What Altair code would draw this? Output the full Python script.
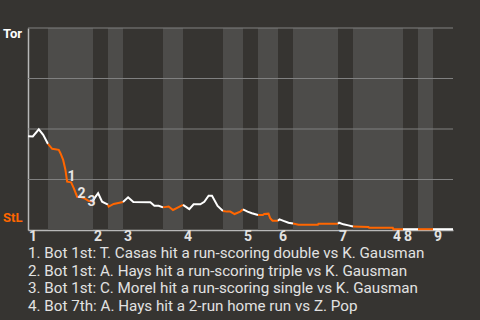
import altair as alt
import pandas as pd

# Win-probability trace (x in plays, v = Toronto win probability)
xs = [0.0, 0.96, 2.16, 3.04, 4.0, 4.83, 6.15, 6.49, 7.03, 7.49, 7.83, 8.63, 9.15, 9.83,
      10.49, 11.49, 12.09, 13.0, 13.28, 14.02, 14.82, 16.0, 16.14, 17.14, 19.0, 20.02,
      21.07, 24.47, 25.27, 26.13, 27.0, 28.13, 29.0, 30.12, 31.0, 32.26, 33.12, 34.46,
      35.26, 36.12, 36.80, 37.92, 39.0, 39.79, 40.45, 41.31, 42.45, 43.0, 43.91, 44.79,
      46.0, 46.98, 47.24, 48.10, 48.44, 48.90, 50.0, 50.30, 51.10, 52.10, 53.0, 54.10,
      57.97, 58.09, 62.0, 62.22, 63.08, 64.08, 65.0, 68.08, 68.22, 72.95, 73.07, 75.0,
      78.0, 81.0, 85.0]
vs = [0.464, 0.463, 0.498, 0.471, 0.426, 0.402, 0.397, 0.380, 0.347, 0.297, 0.239, 0.236,
      0.207, 0.165, 0.164, 0.154, 0.144, 0.141, 0.157, 0.182, 0.140, 0.126, 0.116, 0.129,
      0.139, 0.162, 0.139, 0.137, 0.120, 0.120, 0.112, 0.116, 0.099, 0.113, 0.124, 0.103,
      0.127, 0.127, 0.140, 0.170, 0.170, 0.119, 0.094, 0.091, 0.091, 0.079, 0.091, 0.102,
      0.091, 0.083, 0.074, 0.074, 0.079, 0.081, 0.058, 0.046, 0.046, 0.053, 0.045, 0.036,
      0.032, 0.026, 0.026, 0.031, 0.031, 0.036, 0.028, 0.023, 0.017, 0.015, 0.011, 0.011,
      0.004, 0.004, 0.004, 0.004, 0.004]

# Half-inning boundaries (in plays); even index = top (Tor bats), odd = bottom (StL bats)
half_bounds = [0, 4, 13, 16, 19, 27, 31, 39, 43, 46, 50, 53, 62, 65, 75, 78, 81, 85]

inning_numbers = ["1", "2", "3", "4", "5", "6", "7", "8", "9"]

ann_labels = ["1", "2", "3", "4"]
ann_x = [8.69, 10.69, 12.68, 73.8]
ann_v = [0.263, 0.178, 0.139, -0.036]

events = [
    "1. Bot 1st: T. Casas hit a run-scoring double vs K. Gausman",
    "2. Bot 1st: A. Hays hit a run-scoring triple vs K. Gausman",
    "3. Bot 1st: C. Morel hit a run-scoring single vs K. Gausman",
    "4. Bot 7th: A. Hays hit a 2-run home run vs Z. Pop",
]

grid_values = [0.25, 0.5, 0.75, 1.0]

BG = "#363431"
BAND = "#4d4c4a"
ORANGE = "#ff6600"
TXT = "#e2e2e2"

# Build tables
rows = []
for i in range(len(half_bounds) - 1):
    a, b = half_bounds[i], half_bounds[i + 1]
    team = "Tor" if i % 2 == 0 else "StL"
    for x, v in zip(xs, vs):
        if a <= x <= b:
            rows.append({"x": x, "v": v, "seg": i, "team": team})
line_df = pd.DataFrame(rows)

band_df = pd.DataFrame([
    {"x": half_bounds[i], "x2": half_bounds[i + 1]}
    for i in range(1, len(half_bounds) - 1, 2)
])

inning_df = pd.DataFrame({"x": half_bounds[0:-1:2], "label": inning_numbers})
ann_df = pd.DataFrame({"x": ann_x, "v": ann_v, "label": ann_labels})
grid_df = pd.DataFrame({"v": grid_values})
ev_df = pd.DataFrame({"text": ["\n".join(events)]})

xsc = alt.Scale(domain=[0, 85], nice=False, zero=False)
ysc = alt.Scale(domain=[0, 1], nice=False)
yax = alt.Axis(title=None, labels=False, ticks=False, grid=False,
               domainColor="#b8b8b8", domainWidth=1.5, zindex=0)
xax = alt.Axis(title=None, labels=False, ticks=False, grid=False,
               domainColor="#b8b8b8", domainWidth=1.5, zindex=0)

bands = alt.Chart(band_df).mark_rect(color=BAND).encode(
    x=alt.X("x:Q", scale=xsc, axis=xax),
    x2="x2:Q",
    y=alt.value(0),
    y2=alt.value(202),
)

grid = alt.Chart(grid_df).mark_rule(color="#808080", strokeWidth=1.2).encode(
    y=alt.Y("v:Q", scale=ysc, axis=yax),
    x=alt.value(0),
    x2=alt.value(425),
)

line = alt.Chart(line_df).mark_line(strokeWidth=2, clip=False).encode(
    x=alt.X("x:Q", scale=xsc, axis=xax),
    y=alt.Y("v:Q", scale=ysc, axis=yax),
    detail="seg:N",
    color=alt.Color("team:N", scale=alt.Scale(domain=["Tor", "StL"], range=["#ffffff", ORANGE]),
                    legend=None),
    order="x:Q",
)

innings = alt.Chart(inning_df).mark_text(
    align="left", baseline="middle", dx=1, fontSize=14, fontWeight="bold", color=TXT,
    font="Roboto").encode(
    x=alt.X("x:Q", scale=xsc, axis=xax),
    y=alt.value(209),
    text="label:N",
)

ann = alt.Chart(ann_df).mark_text(
    align="center", baseline="middle", fontSize=14, fontWeight="bold", color="#e6e6e6",
    font="Roboto").encode(
    x=alt.X("x:Q", scale=xsc, axis=xax),
    y=alt.Y("v:Q", scale=ysc, axis=yax),
    text="label:N",
)

tor = alt.Chart(pd.DataFrame({"t": ["Tor"]})).mark_text(
    align="left", baseline="middle", fontSize=13, fontWeight="bold", color="#ffffff",
    font="Roboto").encode(x=alt.value(-25), y=alt.value(6), text="t:N")
stl = alt.Chart(pd.DataFrame({"t": ["StL"]})).mark_text(
    align="left", baseline="middle", fontSize=13, fontWeight="bold", color=ORANGE,
    font="Roboto").encode(x=alt.value(-25), y=alt.value(190), text="t:N")

ev = alt.Chart(ev_df).mark_text(
    align="left", baseline="middle", fontSize=15.2, color=TXT, font="Roboto",
    lineBreak="\n", lineHeight=17.7).encode(
    x=alt.value(0),
    y=alt.value(225),
    text="text:N",
)

chart = alt.layer(bands, grid, line, innings, ann, tor, stl, ev).properties(
    width=425, height=202,
    autosize=alt.AutoSizeParams(type="none"),
    padding={"left": 28, "top": 28, "right": 27, "bottom": 90},
    background=BG,
).configure_view(stroke=None, fill=BG)

chart.save("out.html", embed_options={"renderer": "svg", "actions": False})
